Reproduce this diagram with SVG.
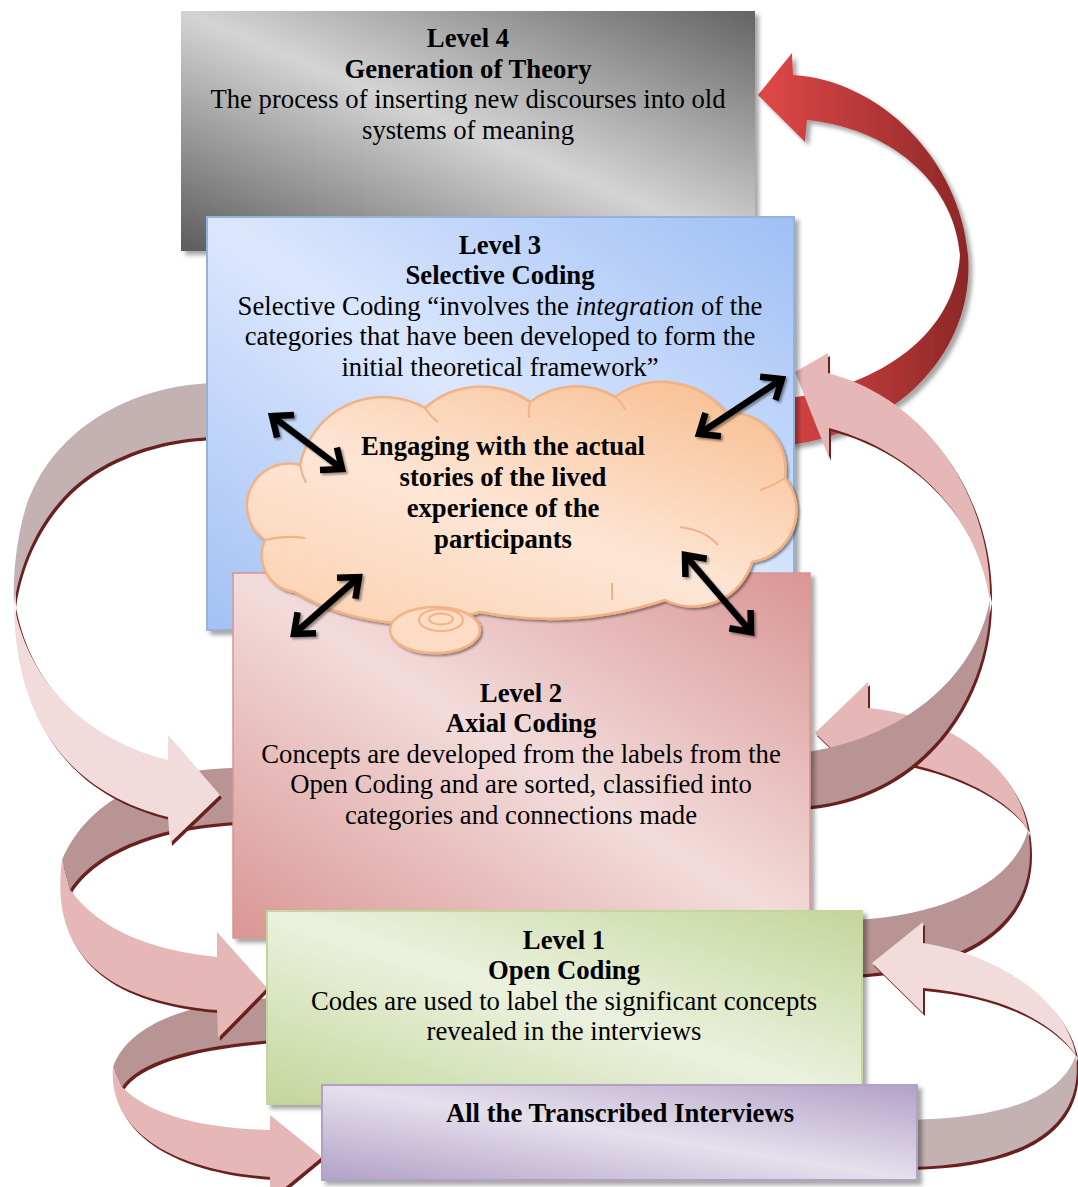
<svg xmlns="http://www.w3.org/2000/svg" xmlns:xlink="http://www.w3.org/1999/xlink" width="1078" height="1187" viewBox="0 0 1078 1187">
<style>
.t{font-family:"Liberation Serif","Times New Roman",serif;font-size:26.7px;fill:#000;text-anchor:middle}
.b{font-weight:bold}
.edge{fill:#6b2020}
.bk1{fill:#c4b1b1}
.bk2{fill:#b89494}
.fr1{fill:#f2dcdb}
.fr2{fill:#e5b8b7}
.dbl{fill:none;stroke:#000;stroke-width:6.5;marker-start:url(#vh);marker-end:url(#vh)}
.cusp{fill:none;stroke:#f4b183;stroke-width:2}
</style>
<defs>
<linearGradient id="g4" x1="1" y1="0" x2="0" y2="1"><stop offset="0" stop-color="#646464"/><stop offset="0.5" stop-color="#d4d4d4"/><stop offset="1" stop-color="#5c5c5c"/></linearGradient>
<linearGradient id="g3" x1="1" y1="0" x2="0" y2="1"><stop offset="0" stop-color="#9fbff5"/><stop offset="0.5" stop-color="#dbe7fd"/><stop offset="1" stop-color="#a3c1f4"/></linearGradient>
<linearGradient id="g2" x1="1" y1="0" x2="0" y2="1"><stop offset="0" stop-color="#d99694"/><stop offset="0.5" stop-color="#f2dcdb"/><stop offset="1" stop-color="#d99694"/></linearGradient>
<linearGradient id="g1" x1="1" y1="0" x2="0" y2="1"><stop offset="0" stop-color="#c3d69b"/><stop offset="0.5" stop-color="#ebf1de"/><stop offset="1" stop-color="#c3d69b"/></linearGradient>
<linearGradient id="g0" x1="1" y1="0" x2="0" y2="1"><stop offset="0" stop-color="#b2a1c7"/><stop offset="0.5" stop-color="#e5e0ec"/><stop offset="1" stop-color="#b2a1c7"/></linearGradient>
<linearGradient id="gc" x1="1" y1="0" x2="0.2" y2="1"><stop offset="0" stop-color="#f8bb8a"/><stop offset="0.6" stop-color="#fde6d6"/><stop offset="1" stop-color="#fbd4b6"/></linearGradient>
<linearGradient id="gr" gradientUnits="userSpaceOnUse" x1="760" y1="0" x2="975" y2="0"><stop offset="0" stop-color="#e04848"/><stop offset="0.6" stop-color="#ad3434"/><stop offset="1" stop-color="#8a2626"/></linearGradient>
<filter id="sh" x="-10%" y="-10%" width="130%" height="130%"><feDropShadow dx="4" dy="4" stdDeviation="2" flood-color="#000" flood-opacity="0.35"/></filter>
<filter id="sh2" x="-10%" y="-10%" width="130%" height="130%"><feDropShadow dx="2" dy="2" stdDeviation="1.2" flood-color="#000" flood-opacity="0.4"/></filter>
<marker id="vh" markerUnits="userSpaceOnUse" orient="auto-start-reverse" refX="0" refY="0" markerWidth="10" markerHeight="10" overflow="visible"><path d="M-17,-14 L0,0 L-17,14" fill="none" stroke="#000" stroke-width="6.5"/></marker>
<path id="aB" d="M215,383 C130,385 50,430 25,510 C15,545 13,580 14,605 C20,560 45,500 100,468 C140,445 180,438 215,437 Z"/>
<path id="aF" d="M14,605 C15,710 60,790 168,817 L170,843 L220,795 L168,735 L168,760 C95,742 30,690 14,605 Z"/>
<path id="bB" d="M240,768 C160,768 90,795 62,860 L70,890 C95,850 160,825 240,822 Z"/>
<path id="bF" d="M62,860 C50,950 100,1000 217,1010 L218,1038 L267,988 L217,932 L217,957 C150,950 100,930 70,890 Z"/>
<path id="cB" d="M275,998 C200,1000 130,1020 113,1067 L122,1087 C140,1060 200,1045 275,1040 Z"/>
<path id="cF" d="M113,1067 C108,1130 170,1170 270,1177 L270,1200 L322,1157 L270,1115 L270,1130 C200,1128 150,1115 122,1087 Z"/>
<path id="dF" d="M990,600 C992,500 930,400 828,373 L828,353 L795,372 L829,458 L829,428 C910,450 975,510 990,600 Z"/>
<path id="dB" d="M990,600 C990,700 920,800 800,807 L800,753 C900,740 975,680 990,600 Z"/>
<path id="eF" d="M868,708 C950,715 1020,770 1028,830 C1010,800 950,765 868,758 L868,784 L815,733 L868,682 Z"/>
<path id="eB" d="M1028,830 C1040,900 1000,965 855,975 L855,920 C950,915 1015,880 1028,830 Z"/>
<path id="fF" d="M923,943 C1000,955 1065,1000 1076,1055 C1050,1020 1000,995 923,988 L923,1013 L872,963 L923,922 Z"/>
<path id="fB" d="M1076,1055 C1085,1130 1020,1165 910,1167 L910,1120 C1000,1118 1060,1100 1076,1055 Z"/>
</defs>

<g id="connectors">
  <path id="ribbon-red" d="M793,75 C880,80 960,160 968,255 C975,350 900,430 790,445 L790,398 C880,385 955,335 960,255 C955,190 900,130 807,120 L805,142 L758,95 L792,53 Z" fill="url(#gr)" filter="url(#sh)"/>
  <g id="ribbon-c">
    <g class="edge" transform="translate(2,3)"><use href="#cB"/><use href="#cF"/></g>
    <use href="#cB" class="bk2"/><use href="#cF" class="fr2"/>
  </g>
  <g id="ribbon-b">
    <g class="edge" transform="translate(2,3)"><use href="#bB"/><use href="#bF"/></g>
    <use href="#bB" class="bk2"/><use href="#bF" class="fr2"/>
  </g>
  <g id="ribbon-a">
    <g class="edge" transform="translate(2,3)"><use href="#aB"/><use href="#aF"/></g>
    <use href="#aB" class="bk1"/><use href="#aF" class="fr1"/>
  </g>
  <g id="ribbon-e">
    <g class="edge" transform="translate(2,3)"><use href="#eB"/><use href="#eF"/></g>
    <use href="#eB" class="bk2"/><use href="#eF" class="fr2"/>
  </g>
  <g id="ribbon-d">
    <g class="edge" transform="translate(2,3)"><use href="#dB"/><use href="#dF"/></g>
    <use href="#dB" class="bk2"/><use href="#dF" class="fr2"/>
  </g>
  <g id="ribbon-f">
    <g class="edge" transform="translate(2,3)"><use href="#fB"/><use href="#fF"/></g>
    <use href="#fB" class="bk1"/><use href="#fF" class="fr1"/>
  </g>
</g>

<g id="level4">
  <rect x="181" y="11" width="574" height="240" fill="url(#g4)" filter="url(#sh)"/>
  <text class="t b" x="468" y="47">Level 4</text>
  <text class="t b" x="468" y="78">Generation of Theory</text>
  <text class="t" x="468" y="108">The process of inserting new discourses into old</text>
  <text class="t" x="468" y="139">systems of meaning</text>
</g>

<g id="level3">
  <rect x="207" y="217" width="587" height="413" fill="url(#g3)" stroke="#95b3d7" stroke-width="2" filter="url(#sh)"/>
  <text class="t b" x="500" y="254">Level 3</text>
  <text class="t b" x="500" y="284">Selective Coding</text>
  <text class="t" x="500" y="315">Selective Coding “involves the <tspan font-style="italic">integration</tspan> of the</text>
  <text class="t" x="500" y="345">categories that have been developed to form the</text>
  <text class="t" x="500" y="376">initial theoretical framework”</text>
</g>

<g id="level2">
  <rect x="233" y="573" width="577" height="365" fill="url(#g2)" stroke="#d99594" stroke-width="1.5" filter="url(#sh)"/>
  <text class="t b" x="521" y="702">Level 2</text>
  <text class="t b" x="521" y="732">Axial Coding</text>
  <text class="t" x="521" y="763">Concepts are developed from the labels from the</text>
  <text class="t" x="521" y="793">Open Coding and are sorted, classified into</text>
  <text class="t" x="521" y="824">categories and connections made</text>
</g>

<g id="cloud">
  <path d="M265,540 A42,42 0 0 1 300,465 A85,85 0 0 1 425,408 A85,85 0 0 1 530,402 A76,76 0 0 1 615,397 A81,81 0 0 1 725,412 A58,58 0 0 1 785,478 A52,52 0 0 1 752,562 A62,62 0 0 1 665,600 A364,364 0 0 1 480,612 A226,226 0 0 1 295,592 A37,37 0 0 1 265,540 Z" fill="url(#gc)" stroke="#f4b183" stroke-width="2.5" filter="url(#sh2)"/>
  <path class="cusp" d="M300,465 Q302,475 306,483"/>
  <path class="cusp" d="M265,540 Q285,535 305,538"/>
  <path class="cusp" d="M425,408 Q430,416 438,422"/>
  <path class="cusp" d="M530,402 Q528,410 529,418"/>
  <path class="cusp" d="M615,397 Q622,402 625,410"/>
  <path class="cusp" d="M725,412 Q720,420 712,426"/>
  <path class="cusp" d="M785,478 Q775,485 760,490"/>
  <path class="cusp" d="M680,527 Q705,530 718,545"/>
  <path class="cusp" d="M612,600 Q612,590 612,583"/>
  <ellipse cx="435" cy="630" rx="45" ry="23" fill="#fcdcc4" stroke="#f4b183" stroke-width="2.5" filter="url(#sh2)"/>
  <ellipse cx="441" cy="620" rx="22" ry="11" fill="none" stroke="#f4b183" stroke-width="2"/>
  <ellipse cx="441" cy="619" rx="12" ry="5.5" fill="none" stroke="#f4b183" stroke-width="2"/>
  <text class="t b" x="503" y="455">Engaging with the actual</text>
  <text class="t b" x="503" y="486">stories of the lived</text>
  <text class="t b" x="503" y="517">experience of the</text>
  <text class="t b" x="503" y="548">participants</text>
</g>

<g id="level1">
  <rect x="267" y="911" width="595" height="193" fill="url(#g1)" stroke="#c3d69b" stroke-width="2" filter="url(#sh)"/>
  <text class="t b" x="564" y="949">Level 1</text>
  <text class="t b" x="564" y="979">Open Coding</text>
  <text class="t" x="564" y="1010">Codes are used to label the significant concepts</text>
  <text class="t" x="564" y="1040">revealed in the interviews</text>
</g>

<g id="interviews">
  <rect x="322" y="1085" width="595" height="95" fill="url(#g0)" stroke="#b2a1c7" stroke-width="2" filter="url(#sh)"/>
  <text class="t b" x="620" y="1122">All the Transcribed Interviews</text>
</g>

<g id="cloud-connectors" filter="url(#sh2)">
  <path class="dbl" d="M272,416 L342,469"/>
  <path class="dbl" d="M294,634 L359,577"/>
  <path class="dbl" d="M699,434 L782,379"/>
  <path class="dbl" d="M685,555 L751,632"/>
</g>
</svg>
